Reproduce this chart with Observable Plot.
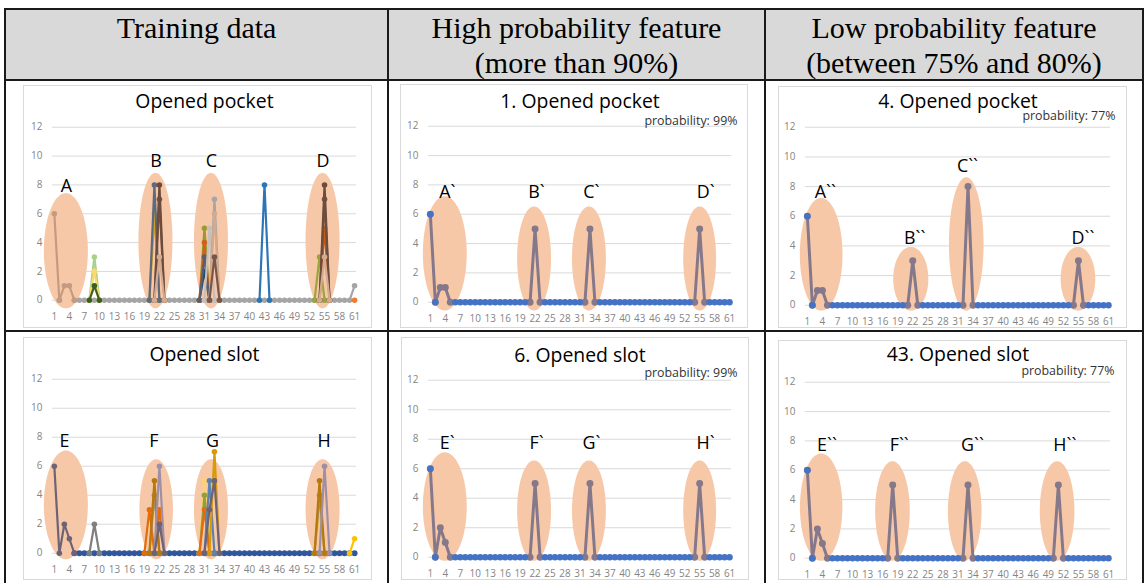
<!DOCTYPE html>
<html><head><meta charset="utf-8">
<script src="https://cdn.jsdelivr.net/npm/d3@7"></script>
<script src="https://cdn.jsdelivr.net/npm/@observablehq/plot@0.6"></script>
<style>
body{margin:0;background:#fff;}
#root{position:relative;width:1146px;height:583px;overflow:hidden;font-family:"Open Sans",sans-serif;}
.ln{position:absolute;background:#1a1a1a;}
.hdr{position:absolute;top:10px;font-family:"Liberation Serif","Times New Roman",serif;font-size:30px;line-height:35px;text-align:center;color:#000;}
.box{position:absolute;border:1px solid #d9d9d9;box-sizing:border-box;background:#fff;}
.box svg{position:absolute;left:-1px;top:-1px;overflow:visible;}
</style></head>
<body><div id="root"></div>
<script>
// ---------- data ----------
const xTickLabels = [1,4,7,10,13,16,19,22,25,28,31,34,37,40,43,46,49,52,55,58,61];
const yTickLabels = [0,2,4,6,8,10,12];
const headers = [["Training data"],["High probability feature","(more than 90%)"],["Low probability feature","(between 75% and 80%)"]];
const titles = ["Opened pocket","1. Opened pocket","4. Opened pocket","Opened slot","6. Opened slot","43. Opened slot"];
const probabilities = [null,"probability: 99%","probability: 77%",null,"probability: 99%","probability: 77%"];

// training: opened pocket (values per x 1..61)
const pocketBaseline = [null,0,null,null,0,0,0,0,0,0,0,0,0,0,0,0,0,0,0,0,0,0,0,0,0,0,0,0,0,0,0,0,0,0,0,0,0,0,0,0,0,0,0,0,0,0,0,0,0,0,0,0,0,0,0,0,0,0,0,0,1];
const pocketSeries = [
  [[1,6],[2,0],[3,1],[4,1],[5,0]],
  [[8,0],[9,3],[10,0]],
  [[8,0],[9,2],[10,0]],
  [[8,0],[9,1],[10,0]],
  [[42,0],[43,8],[44,0]],
  [[20,0],[21,6],[22,0]],
  [[20,0],[21,8],[22,0]],
  [[21,0],[22,7],[23,0]],
  [[21,0],[22,8],[23,0]],
  [[21,0],[22,3],[23,0]],
  [[30,0],[31,2],[32,0]],
  [[30,0],[31,5],[32,0]],
  [[30,0],[31,4],[32,0]],
  [[30,0],[31,3],[32,0]],
  [[31,0],[32,5],[33,0]],
  [[32,0],[33,7],[34,0]],
  [[32,0],[33,6],[34,0]],
  [[32,0],[33,3],[34,0]],
  [[53,0],[54,3],[55,0]],
  [[54,0],[55,5],[56,0]],
  [[54,0],[55,7],[56,0]],
  [[54,0],[55,8],[56,0]],
  [[54,0],[55,3],[56,0]],
  [[61,0]]
];
const pocketColors = ["#c49a80","#a9d18e","#ffd966","#3a5f1e","#2e75b6","#c9a227","#5e6a7e","#7b5546","#6d4c3d","#d6aa8e",
  "#1f4e79","#9c9a2c","#d2601a","#5a5f6e","#c8bfb8","#a6a6a6","#d4a98c","#7b5546",
  "#9aa63a","#c55a11","#7b5546","#6d4c3d","#d6aa8e","#ed7d31"];

// training: opened slot
const slotBaseline = [null,null,null,null,0,0,0,0,0,0,0,0,0,0,0,0,0,0,0,0,0,0,0,0,0,0,0,0,0,0,0,0,0,0,0,0,0,0,0,0,0,0,0,0,0,0,0,0,0,0,0,0,0,0,0,0,0,0,0,0,0];
const slotSeries = [
  [[1,6],[2,0],[3,2],[4,1],[5,0]],
  [[8,0],[9,2],[10,0]],
  [[19,0],[20,3],[21,0]],
  [[21,0],[22,3],[23,0]],
  [[20,0],[21,4],[22,0]],
  [[20,0],[21,5],[22,0]],
  [[21,0],[22,6],[23,0]],
  [[21,0],[22,2],[23,0]],
  [[30,0],[31,5],[32,0]],
  [[30,0],[31,4],[32,0]],
  [[30,0],[31,3],[32,0]],
  [[31,0],[32,5],[33,0]],
  [[32,0],[33,7],[34,0]],
  [[31,0],[32,3],[33,5],[34,0]],
  [[53,0],[54,3],[55,0]],
  [[53,0],[54,4],[55,0]],
  [[53,0],[54,5],[55,0]],
  [[54,0],[55,6],[56,0]],
  [[60,0],[61,1]]
];
const slotColors = ["#6e6275","#7f7f7f","#e46c0a","#e46c0a","#a88a6a","#b57a0a","#9e8fa6","#6e6275",
  "#ffd36b","#8fa03c","#e46c0a","#5f82ad","#d99a0a","#6e6275",
  "#f2c45a","#a88a6a","#b57a0a","#9e8fa6","#ffc000"];

// feature charts: blue series (x 1..61) and grey feature pattern
const featureBaseline = [6,0,0,0,0,0,0,0,0,0,0,0,0,0,0,0,0,0,0,0,0,0,0,0,0,0,0,0,0,0,0,0,0,0,0,0,0,0,0,0,0,0,0,0,0,0,0,0,0,0,0,0,0,0,0,0,0,0,0,0,0];
const feature1X = [1,2,3,4,5,21,22,23,32,33,34,54,55,56];
const feature1Y = [6,0,1,1,0,0,5,0,0,5,0,0,5,0];
const feature4X = [1,2,3,4,5,21,22,23,32,33,34,54,55,56];
const feature4Y = [6,0,1,1,0,0,3,0,0,8,0,0,3,0];
const feature6X = [1,2,3,4,5,21,22,23,32,33,34,54,55,56];
const feature6Y = [6,0,2,1,0,0,5,0,0,5,0,0,5,0];
const feature43X = [1,2,3,4,5,17,18,19,32,33,34,50,51,52];
const feature43Y = [6,0,2,1,0,0,5,0,0,5,0,0,5,0];

// annotation ellipses [cx, cy, rx, ry] and labels [x, y, text]
const ellPocket = [[3.4,3.4,4.4,4.0],[21.3,4.1,3.4,4.7],[32.4,4.1,3.4,4.7],[54.7,4.1,3.4,4.7]];
const lblPocket = [[3.4,7.9,"A"],[21.3,9.65,"B"],[32.4,9.65,"C"],[54.7,9.65,"D"]];
const ellF1 = [[4.0,3.3,4.4,3.9],[21.9,2.95,3.4,3.55],[32.9,2.95,3.4,3.55],[55.1,2.95,3.3,3.55]];
const lblF1 = [[4.4,7.5,"A`"],[22.3,7.5,"B`"],[33.3,7.5,"C`"],[56.2,7.5,"D`"]];
const ellF4 = [[3.85,3.4,4.25,3.8],[21.7,1.75,3.5,2.15],[32.75,4.1,3.45,4.5],[55.0,1.75,3.45,2.15]];
const lblF4 = [[4.6,7.64,"A``"],[22.4,4.5,"B``"],[32.9,9.4,"C``"],[55.9,4.5,"D``"]];
const ellSlot = [[3.4,3.3,4.4,3.75],[21.45,3.0,3.35,3.45],[32.4,3.0,3.4,3.45],[54.7,3.0,3.4,3.45]];
const lblSlot = [[3.0,7.7,"E"],[20.9,7.7,"F"],[32.6,7.7,"G"],[54.9,7.7,"H"]];
const ellF6 = [[4.0,3.4,4.4,3.68],[21.9,3.13,3.4,3.4],[32.9,3.13,3.4,3.4],[55.1,3.13,3.3,3.4]];
const lblF6 = [[4.4,7.75,"E`"],[22.3,7.75,"F`"],[33.3,7.75,"G`"],[56.2,7.75,"H`"]];
const ellF43 = [[3.85,3.45,4.23,3.66],[18.05,3.19,3.45,3.39],[32.45,3.19,3.35,3.39],[50.85,3.19,3.45,3.39]];
const lblF43 = [[4.9,7.7,"E``"],[19.3,7.7,"F``"],[33.9,7.7,"G``"],[52.3,7.7,"H``"]];

// ---------- layout ----------
const root = document.getElementById("root");
function addDiv(cls, css, html) {
  const d = document.createElement("div");
  d.className = cls; d.style.cssText = css;
  if (html != null) d.innerHTML = html;
  root.appendChild(d); return d;
}
addDiv("", "position:absolute;left:5px;top:9px;width:1138px;height:71px;background:#d9d9d9;");
const colEdges = [[5,388],[388,765],[765,1143]];
headers.forEach((h, i) => {
  const [a, b] = colEdges[i];
  addDiv("hdr", `left:${a}px;width:${b - a}px;`, h.join("<br>"));
});

const ORANGE = "#f7c8a8";
const GREY = "#85788a";
const BLUE = "#4472c4";

function ellipsePoints(list) {
  return list.flatMap((e, i) => d3.range(0, 61).map(k => {
    const t = Math.PI * k / 60;
    return {id: i, x: e[0] + e[2] * Math.cos(t), y1: e[1] - e[3] * Math.sin(t), y2: e[1] + e[3] * Math.sin(t)};
  }));
}

function seriesMarks(series, colors, lw, r) {
  return series.flatMap((pts, i) => [
    Plot.line(pts, {x: d => d[0], y: d => d[1], stroke: colors[i], strokeWidth: lw}),
    Plot.dot(pts, {x: d => d[0], y: d => d[1], r, fill: colors[i]})
  ]);
}

function baselineMarks(vals, color, lw, r) {
  const pts = vals.map((v, i) => ({x: i + 1, y: v}));
  return [
    Plot.line(pts, {x: "x", y: "y", stroke: color, strokeWidth: lw}),
    Plot.dot(pts.filter(d => d.y != null), {x: "x", y: "y", r, fill: color})
  ];
}

function featureMarks(xs, ys) {
  const pts = xs.map((x, i) => ({x, y: ys[i]}));
  let seg = 0;
  pts.forEach((d, i) => { if (i > 0 && d.x - pts[i - 1].x > 1) seg++; d.seg = seg; });
  const set = new Set(xs);
  const blue = featureBaseline.map((v, i) => ({x: i + 1, y: v})).filter(d => !set.has(d.x) || d.x <= 2);
  return [
    Plot.line(pts, {x: "x", y: "y", z: "seg", stroke: GREY, strokeWidth: 3}),
    Plot.dot(pts, {x: "x", y: "y", r: 3.5, fill: GREY}),
    Plot.dot(blue, {x: "x", y: "y", r: 3.2, fill: BLUE})
  ];
}

function chart(cfg, ellipses, labels, content, idx) {
  const box = addDiv("box", `left:${cfg.left}px;top:${cfg.top}px;width:${cfg.w}px;height:${cfg.h}px;`);
  const marks = [
    Plot.gridY(yTickLabels, {stroke: "#d9d9d9", strokeOpacity: 1, strokeWidth: 1}),
    Plot.areaY(ellipsePoints(ellipses), {x: "x", y1: "y1", y2: "y2", z: "id", fill: ORANGE, curve: "linear"}),
    Plot.axisY(yTickLabels, {tickSize: 0, tickPadding: 10, fontSize: 10, color: "#858585", label: null}),
    Plot.axisX(xTickLabels, {tickSize: 0, tickPadding: 13, fontSize: 10, color: "#858585", label: null}),
    ...content,
    Plot.text(labels, {x: d => d[0], y: d => d[1], text: d => d[2], fontSize: 18, fill: "#000"}),
    Plot.text([titles[idx]], {frameAnchor: "top", lineAnchor: "middle", dy: cfg.titleY - cfg.mT, fontSize: 19.5, fill: "#000"})
  ];
  if (probabilities[idx]) {
    marks.push(Plot.text([probabilities[idx]], {frameAnchor: "top-right", lineAnchor: "middle", textAnchor: "end",
      dx: cfg.mR - cfg.probInset, dy: cfg.probY - cfg.mT, fontSize: 12.5, fill: "#333"}));
  }
  const svg = Plot.plot({
    width: cfg.w, height: cfg.h,
    marginLeft: cfg.mL, marginRight: cfg.mR, marginTop: cfg.mT, marginBottom: cfg.mB,
    x: {type: "linear", domain: [0.6, 61.4], label: null},
    y: {domain: [0, 12], label: null},
    style: {fontFamily: "'Open Sans', sans-serif", background: "transparent", overflow: "visible"},
    marks
  });
  box.appendChild(svg);
}

const cfgs = [
  {left: 23, top: 85, w: 349, h: 243, mL: 29, mR: 14, mT: 42, mB: 27, titleY: 16},
  {left: 400, top: 84, w: 348, h: 244, mL: 28, mR: 15, mT: 42, mB: 25, titleY: 17, probY: 37, probInset: 9},
  {left: 778, top: 86, w: 349, h: 242, mL: 27, mR: 15, mT: 41, mB: 22, titleY: 15, probY: 30, probInset: 10},
  {left: 23, top: 337, w: 349, h: 243, mL: 29, mR: 14, mT: 42, mB: 26, titleY: 17},
  {left: 401, top: 337, w: 348, h: 243, mL: 27, mR: 16, mT: 43, mB: 22, titleY: 18, probY: 36, probInset: 10},
  {left: 778, top: 340, w: 349, h: 240, mL: 27, mR: 15, mT: 42, mB: 21, titleY: 14, probY: 31, probInset: 11}
];

chart(cfgs[0], ellPocket, lblPocket, [...baselineMarks(pocketBaseline, "#a5a5a5", 2.2, 2.8), ...seriesMarks(pocketSeries, pocketColors, 2.2, 2.8)], 0);
chart(cfgs[1], ellF1, lblF1, featureMarks(feature1X, feature1Y), 1);
chart(cfgs[2], ellF4, lblF4, featureMarks(feature4X, feature4Y), 2);
chart(cfgs[3], ellSlot, lblSlot, [...baselineMarks(slotBaseline, "#30569c", 2.2, 3), ...seriesMarks(slotSeries, slotColors, 2.2, 2.8)], 3);
chart(cfgs[4], ellF6, lblF6, featureMarks(feature6X, feature6Y), 4);
chart(cfgs[5], ellF43, lblF43, featureMarks(feature43X, feature43Y), 5);

// table rules
addDiv("ln", "left:5px;top:8px;width:1138px;height:2px;");
addDiv("ln", "left:5px;top:79px;width:1138px;height:2px;");
addDiv("ln", "left:5px;top:330px;width:1138px;height:2px;");
addDiv("ln", "left:4px;top:8px;width:2px;height:575px;");
addDiv("ln", "left:387px;top:8px;width:2px;height:575px;");
addDiv("ln", "left:764px;top:8px;width:2px;height:575px;");
addDiv("ln", "left:1142px;top:8px;width:2px;height:575px;");
</script>
</body></html>
